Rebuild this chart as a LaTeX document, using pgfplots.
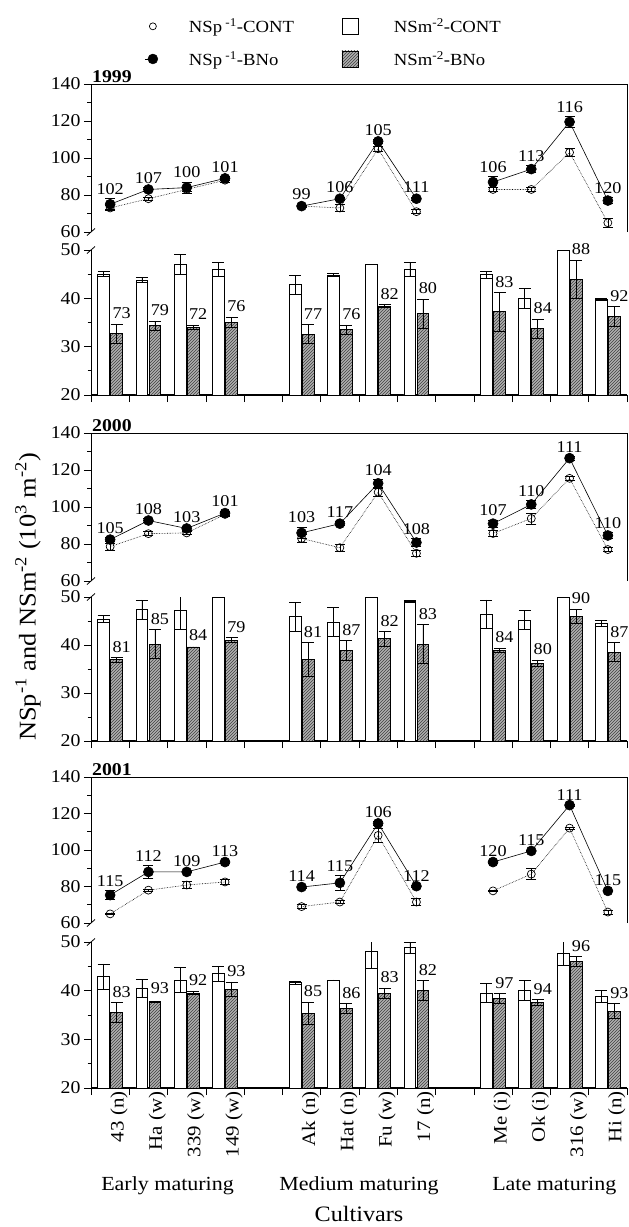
\documentclass[border=0pt]{standalone}
\usepackage{pgfplots}
\pgfplotsset{compat=1.18}
\usepackage{pgfplotstable}
\usetikzlibrary{patterns}
\usepackage{fontspec}
\setmainfont{Liberation Serif}[FakeStretch=1.1]
\newcommand{\fs}{\fontsize{18}{20}\selectfont}
\newcommand{\fl}{\fontsize{16.5}{18}\selectfont}

% upper panels: NSp^-1
\pgfplotstableread{
x cont ce bno be ly lab
0.5 73 1.5 75 3 78 102
1.5 78 1 83 1 84 107
2.5 83 1 84 3 87 100
3.5 88 1 89 1 90 101
4.5 nan 0 nan 0 nan 0
5.5 74 0.5 74 0.5 75 99
6.5 73 2 78 1 79 106
7.5 105 1.5 109 1 110 105
8.5 71 1 78 1 79 111
9.5 nan 0 nan 0 nan 0
10.5 83 1 87 3 90 106
11.5 83 1 94 2 96 113
12.5 103 2 119.5 3 122.5 116
13.5 65 2.5 77 1.5 78.5 120
}\upA
\pgfplotstableread{
x cont ce bno be ly lab
0.5 78.6 2 82.4 1 83.4 105
1.5 85.6 1 92.7 1 93.7 108
2.5 86 1 88.4 1 89.4 103
3.5 96 1 96.7 1 97.7 101
4.5 nan 0 nan 0 nan 0
5.5 83 2 86 3 89 103
6.5 78 2 91 1 92 117
7.5 108 2 112.8 2 114.8 104
8.5 75 1.5 80.8 2 82.8 108
9.5 nan 0 nan 0 nan 0
10.5 85.7 1.5 91 2 93 107
11.5 93.8 3 101.4 2 103.4 110
12.5 115.5 1 126.4 1 127.4 111
13.5 77 1 84.6 1.5 86.1 110
}\upB
\pgfplotstableread{
x cont ce bno be ly lab
0.5 65 0.5 75.3 2.5 77.8 115
1.5 78 0.5 88 3.5 91.5 112
2.5 80.8 2 88 0.5 88.5 109
3.5 82.5 1.5 93.4 0.5 93.9 113
4.5 nan 0 nan 0 nan 0
5.5 69 1 79.7 0.5 80.2 114
6.5 71.5 1 82 4 86 115
7.5 108 4 114.6 1 115.6 106
8.5 71.5 2 80.2 0.5 80.7 112
9.5 nan 0 nan 0 nan 0
10.5 77.6 0.5 93.4 0.5 93.9 120
11.5 86.8 3 99.5 0.5 100 115
12.5 112 0.5 124.6 0.5 125.1 111
13.5 66 1 77.6 0.5 78.1 115
}\upC

% lower panels: NSm^-2 (xc, xb: bar centres of CONT and BNo; lx: label position)
\pgfplotstableread{
xc xb lx cont ce bno be ly lab
0.33 0.67 0.8 45 0.5 32.7 2 34.7 73
1.33 1.67 1.8 43.8 0.5 34.3 1 35.3 79
2.33 2.67 2.8 47 2 34 0.5 34.5 72
3.33 3.67 3.8 46 1.5 35.1 1 36.1 76
5.33 5.67 5.8 42.8 2 32.6 2 34.6 77
6.33 6.67 6.8 44.8 0.3 33.5 1 34.5 76
7.33 7.67 7.8 47 0 38.4 0.3 38.7 82
8.33 8.67 8.8 46 1.5 36.8 3 39.8 80
10.33 10.67 10.8 44.9 0.7 37.2 4 41.2 83
11.33 11.67 11.8 40 2 33.7 2 35.7 84
12.33 12.67 12.8 50 0 43.9 4 47.9 88
13.33 13.67 13.8 39.8 0.2 36.3 2 38.3 92
}\loA
\pgfplotstableread{
xc xb lx cont ce bno be ly lab
0.33 0.67 0.8 45.4 0.7 36.9 0.5 37.4 81
1.33 1.67 1.8 47.4 2 40.2 3 43.2 85
2.33 2.67 2.8 47.2 4 39.6 0 39.8 84
3.33 3.67 3.8 50 0 41 0.5 41.5 79
5.33 5.67 5.8 45.9 3 37 3.5 40.5 81
6.33 6.67 6.8 44.8 3 38.9 2 40.9 87
7.33 7.67 7.8 50 0 41.3 1.5 42.8 82
8.33 8.67 8.8 49 0.2 40.2 4 44.2 83
10.33 10.67 10.8 46.4 3 38.9 0.5 39.4 84
11.33 11.67 11.8 45.2 2 36.2 0.7 36.9 80
12.33 12.67 12.8 50 0 46 1.5 47.5 90
13.33 13.67 13.8 44.5 0.7 38.5 2 40.5 87
}\loB
\pgfplotstableread{
xc xb lx cont ce bno be ly lab
0.33 0.67 0.8 42.9 2.6 35.5 2 37.5 83
1.33 1.67 1.8 40.5 1.8 37.7 0 38.3 93
2.33 2.67 2.8 42.2 2.5 39.5 0.3 40 92
3.33 3.67 3.8 43.5 1.5 40.3 1.5 41.8 93
5.33 5.67 5.8 41.7 0.3 35.3 2.3 37.6 85
6.33 6.67 6.8 42.2 0 36.3 1 37.3 86
7.33 7.67 7.8 48 3.5 39.5 1 40.5 83
8.33 8.67 8.8 48.8 1.2 40.1 2 42.1 82
10.33 10.67 10.8 39.5 2 38.4 1 39.4 97
11.33 11.67 11.8 40.1 2 37.6 0.6 38.2 94
12.33 12.67 12.8 47.7 2.5 46 1 47 96
13.33 13.67 13.8 38.8 1.3 35.8 1.5 37.3 93
}\loC

\pgfplotsset{
  base/.style={scale only axis, width=536pt, xmin=0, xmax=14,
    axis line style={line width=0.9pt, black},
    tick style={black, line width=0.7pt},
    tick align=outside, major tick length=7pt, minor tick length=3.5pt,
    /pgf/number format/assume math mode=true,
    ticklabel style={font=\fs},
    clip mode=individual},
  upper/.style={base, height=148pt, ymin=60, ymax=140,
    ytick={60,80,100,120,140}, minor ytick={70,90,110,130},
    axis x line*=top, axis y line*=left, xtick=\empty,
    unbounded coords=jump},
  lower/.style={base, height=145pt, ymin=20, ymax=50,
    ytick={20,30,40,50}, minor ytick={25,35,45},
    axis x line*=bottom, axis y line*=left,
    x axis line style={line width=1.4pt},
    xtick={0,1,...,14}, xticklabels={}},
  emark/.style={error bars/y dir=both, error bars/y explicit,
    error bars/error bar style={solid, line width=0.7pt, black},
    error bars/error mark options={rotate=90, mark size=#1, line width=0.7pt, solid, black}},
  contline/.style={densely dotted, black, line width=0.6pt, mark=o,
    mark size=4pt, mark options={solid, fill=white, line width=0.7pt}, emark=5pt},
  bnoline/.style={solid, black, line width=0.6pt, mark=*, mark size=5pt,
    mark options={solid, fill=black}, emark=5pt},
  contbar/.style={ybar, bar width=0.31, bar shift=0, draw=black,
    line width=0.8pt, fill=white, emark=6pt},
  bnobar/.style={ybar, bar width=0.31, bar shift=0, draw=black,
    line width=0.8pt, fill=gray!62,
    postaction={pattern=north east lines, pattern color=black!75}, emark=6pt},
  labs/.style={only marks, mark=*, mark size=0pt, mark options={draw=none, fill=none},
    nodes near coords, point meta=explicit symbolic,
    nodes near coords style={anchor=south, inner sep=1pt, yshift=3pt, font=\fl, black}},
  blabs/.style={labs, nodes near coords style={anchor=south, inner sep=1pt, yshift=1pt, font=\fl, black}},
}

\newcommand{\upbreak}{\draw[line width=0.8pt] ([xshift=-4pt,yshift=-3.5pt]rel axis cs:0,0) -- ([xshift=4pt,yshift=3.5pt]rel axis cs:0,0);}
\newcommand{\lobreak}{\draw[line width=0.8pt] ([xshift=-4pt,yshift=-3.5pt]rel axis cs:0,1) -- ([xshift=4pt,yshift=3.5pt]rel axis cs:0,1);}
\newcommand{\rside}{\draw[line width=0.9pt] (rel axis cs:1,0) -- (rel axis cs:1,1);}

\begin{document}
\begin{tikzpicture}[font=\fs]
% ---------------- 1999 ----------------
\begin{axis}[upper, at={(0pt,0pt)}, anchor=north west,
  legend columns=2, legend cell align=left,
  legend style={at={(0.094,1)}, anchor=south west, yshift=13pt, draw=none, fill=none,
    font=\fontsize{17}{19}\selectfont, row sep=13pt,
    /tikz/every even column/.append style={column sep=38pt}}]
\addlegendimage{legend image code/.code={\path[draw=none, fill=none] (-8pt,-8pt) rectangle (34pt,8pt);
  \draw[black, line width=0.7pt, fill=white] (0pt,0pt) circle (3.5pt);}}
\addlegendentry{NSp\textsuperscript{ -1}-CONT}
\addlegendimage{legend image code/.code={\path[draw=none, fill=none] (-8pt,-8pt) rectangle (50pt,8pt);
  \draw[black, line width=0.8pt, fill=white] (0pt,-8pt) rectangle (16pt,8pt);}}
\addlegendentry{NSm\textsuperscript{-2}-CONT}
\addlegendimage{legend image code/.code={\path[draw=none, fill=none] (-8pt,-8pt) rectangle (34pt,8pt);
  \draw[black, line width=0.6pt] (-8pt,0pt) -- (0pt,0pt);
  \fill[black] (0pt,0pt) circle (5pt);}}
\addlegendentry{NSp\textsuperscript{ -1}-BNo}
\addlegendimage{legend image code/.code={\path[draw=none, fill=none] (-8pt,-8pt) rectangle (50pt,8pt);
  \draw[black, line width=0.8pt, fill=gray!62, postaction={pattern=north east lines, pattern color=black!75}] (0pt,-8pt) rectangle (16pt,8pt);}}
\addlegendentry{NSm\textsuperscript{-2}-BNo}
\addplot[contline] table[x=x, y=cont, y error=ce] {\upA};
\addplot[bnoline] table[x=x, y=bno, y error=be] {\upA};
\addplot[labs] table[x=x, y=ly, meta=lab] {\upA};
\node[anchor=south west, inner sep=1pt, font=\bfseries\fs] at (rel axis cs:0,1) {1999};
\upbreak \rside
\end{axis}
\begin{axis}[lower, at={(0pt,-166pt)}, anchor=north west]
\addplot[contbar] table[x=xc, y=cont, y error=ce] {\loA};
\addplot[bnobar] table[x=xb, y=bno, y error=be] {\loA};
\addplot[blabs] table[x=lx, y=ly, meta=lab] {\loA};
\lobreak
\end{axis}
% ---------------- 2000 ----------------
\begin{axis}[upper, at={(0pt,-349pt)}, anchor=north west]
\addplot[contline] table[x=x, y=cont, y error=ce] {\upB};
\addplot[bnoline] table[x=x, y=bno, y error=be] {\upB};
\addplot[labs] table[x=x, y=ly, meta=lab] {\upB};
\node[anchor=south west, inner sep=1pt, font=\bfseries\fs] at (rel axis cs:0,1) {2000};
\upbreak \rside
\end{axis}
\begin{axis}[lower, height=144pt, at={(0pt,-513pt)}, anchor=north west]
\addplot[contbar] table[x=xc, y=cont, y error=ce] {\loB};
\addplot[bnobar] table[x=xb, y=bno, y error=be] {\loB};
\addplot[blabs] table[x=lx, y=ly, meta=lab] {\loB};
\lobreak
\end{axis}
% ---------------- 2001 ----------------
\begin{axis}[upper, height=146pt, at={(0pt,-693pt)}, anchor=north west]
\addplot[contline] table[x=x, y=cont, y error=ce] {\upC};
\addplot[bnoline] table[x=x, y=bno, y error=be] {\upC};
\addplot[labs] table[x=x, y=ly, meta=lab] {\upC};
\node[anchor=south west, inner sep=1pt, font=\bfseries\fs] at (rel axis cs:0,1) {2001};
\upbreak \rside
\end{axis}
\begin{axis}[lower, height=146pt, at={(0pt,-858pt)}, anchor=north west,
  extra x ticks={0.5,1.5,2.5,3.5,5.5,6.5,7.5,8.5,10.5,11.5,12.5,13.5},
  extra x tick labels={43 (n),Ha (w),339 (w),149 (w),Ak (n),Hat (n),Fu (w),17 (n),Me (i),Ok (i),316 (w),Hi (n)},
  extra x tick style={major tick length=0pt, xticklabel style={rotate=90, anchor=east, font=\fontsize{19}{21}\selectfont, yshift=-9pt}}]
\addplot[contbar] table[x=xc, y=cont, y error=ce] {\loC};
\addplot[bnobar] table[x=xb, y=bno, y error=be] {\loC};
\addplot[blabs] table[x=lx, y=ly, meta=lab] {\loC};
\lobreak
\node[font=\fontsize{20}{22}\selectfont] at ([yshift=-98pt]axis cs:2.0,20) {Early maturing};
\node[font=\fontsize{20}{22}\selectfont] at ([yshift=-98pt]axis cs:7.0,20) {Medium maturing};
\node[font=\fontsize{20}{22}\selectfont] at ([yshift=-98pt]axis cs:12.1,20) {Late maturing};
\node[font=\fontsize{22}{24}\selectfont] at ([yshift=-126pt]axis cs:7.0,20) {Cultivars};
\end{axis}
\node[rotate=90, font=\fontsize{24}{26}\selectfont] at (-63pt,-513pt)
  {NSp\textsuperscript{-1} and NSm\textsuperscript{-2} (10\textsuperscript{3} m\textsuperscript{-2})};
\pgfresetboundingbox
\useasboundingbox (-91pt,84pt) rectangle (538pt,-1143pt);
\end{tikzpicture}
\end{document}
